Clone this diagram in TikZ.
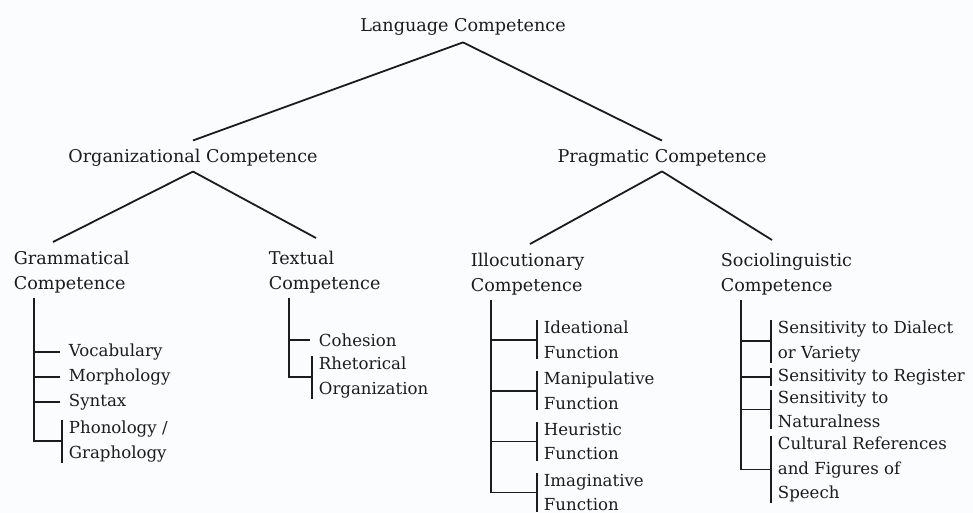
\documentclass[tikz,border=0pt]{standalone}
\usepackage{fontspec}
\setmainfont{DejaVu Serif}
\usetikzlibrary{positioning}
\definecolor{paper}{RGB}{250,252,253}
\definecolor{ink}{RGB}{28,28,28}

\begin{document}
\begin{tikzpicture}[x=0.5pt, y=-0.5pt, font=\fontsize{8.8}{12.5}\selectfont, color=ink, line width=0.9pt]
\tikzstyle{hd}=[inner sep=0pt]
\tikzstyle{sub}=[anchor=north west, align=left, inner sep=0pt]
\tikzstyle{itm}=[anchor=north west, align=left, inner sep=0pt, font=\fontsize{8.3}{12.3}\selectfont]
\fill[paper] (0,0) rectangle (973,513);
\useasboundingbox (0,0) rectangle (973,513);
\node[hd] (lang) at (463,27) {Language Competence};
\node[hd] (org) at (193,158) {Organizational Competence};
\node[hd] (prag) at (662,158) {Pragmatic Competence};
\node[sub] (gram) at (13,250) {Grammatical\\Competence};
\node[sub] (text) at (268,250) {Textual\\Competence};
\node[sub] (illo) at (470,252) {Illocutionary\\Competence};
\node[sub] (soc) at (720,252) {Sociolinguistic\\Competence};
\node[itm] (voc) at (68,343) {Vocabulary};
\node[itm] (mor) at (68,368) {Morphology};
\node[itm] (syn) at (68,393) {Syntax};
\node[itm] (pho) at (68,420) {Phonology /\\Graphology};
\node[itm] (coh) at (318,333) {Cohesion};
\node[itm] (rhe) at (318,356) {Rhetorical\\Organization};
\node[itm] (ide) at (543,320) {Ideational\\Function};
\node[itm] (man) at (543,371) {Manipulative\\Function};
\node[itm] (heu) at (543,422) {Heuristic\\Function};
\node[itm] (ima) at (543,473) {Imaginative\\Function};
\node[itm] (dia) at (777,320) {Sensitivity to Dialect\\or Variety};
\node[itm] (reg) at (777,368) {Sensitivity to Register};
\node[itm] (nat) at (777,390) {Sensitivity to\\Naturalness};
\node[itm] (cul) at (777,436) {Cultural References\\and Figures of\\Speech};
\draw ([yshift=-3pt]lang.south) -- ([yshift=4pt]org.north);
\draw ([yshift=-3pt]lang.south) -- ([yshift=4pt]prag.north);
\draw ([yshift=-2pt]org.south) -- ([xshift=20pt,yshift=4pt]gram.north west);
\draw ([yshift=-2pt]org.south) -- ([xshift=24pt,yshift=6pt]text.north west);
\draw ([yshift=-2pt]prag.south) -- ([xshift=30pt,yshift=4pt]illo.north west);
\draw ([yshift=-2pt]prag.south) -- ([xshift=26pt,yshift=6pt]soc.north west);
\foreach \p/\c in {gram/voc, gram/mor, gram/syn, text/coh}
  \draw ([xshift=10.5pt,yshift=-2pt]\p.south west) |- ([xshift=-4pt]\c.west);
\foreach \p/\c in {gram/pho, text/rhe, illo/ide, illo/man, illo/heu, illo/ima, soc/dia, soc/reg, soc/nat, soc/cul}
  \draw ([xshift=10.5pt,yshift=-2pt]\p.south west) |- ([xshift=-3pt]\c.west)
        ([xshift=-3pt]\c.north west) -- ([xshift=-3pt]\c.south west);
\end{tikzpicture}
\end{document}
